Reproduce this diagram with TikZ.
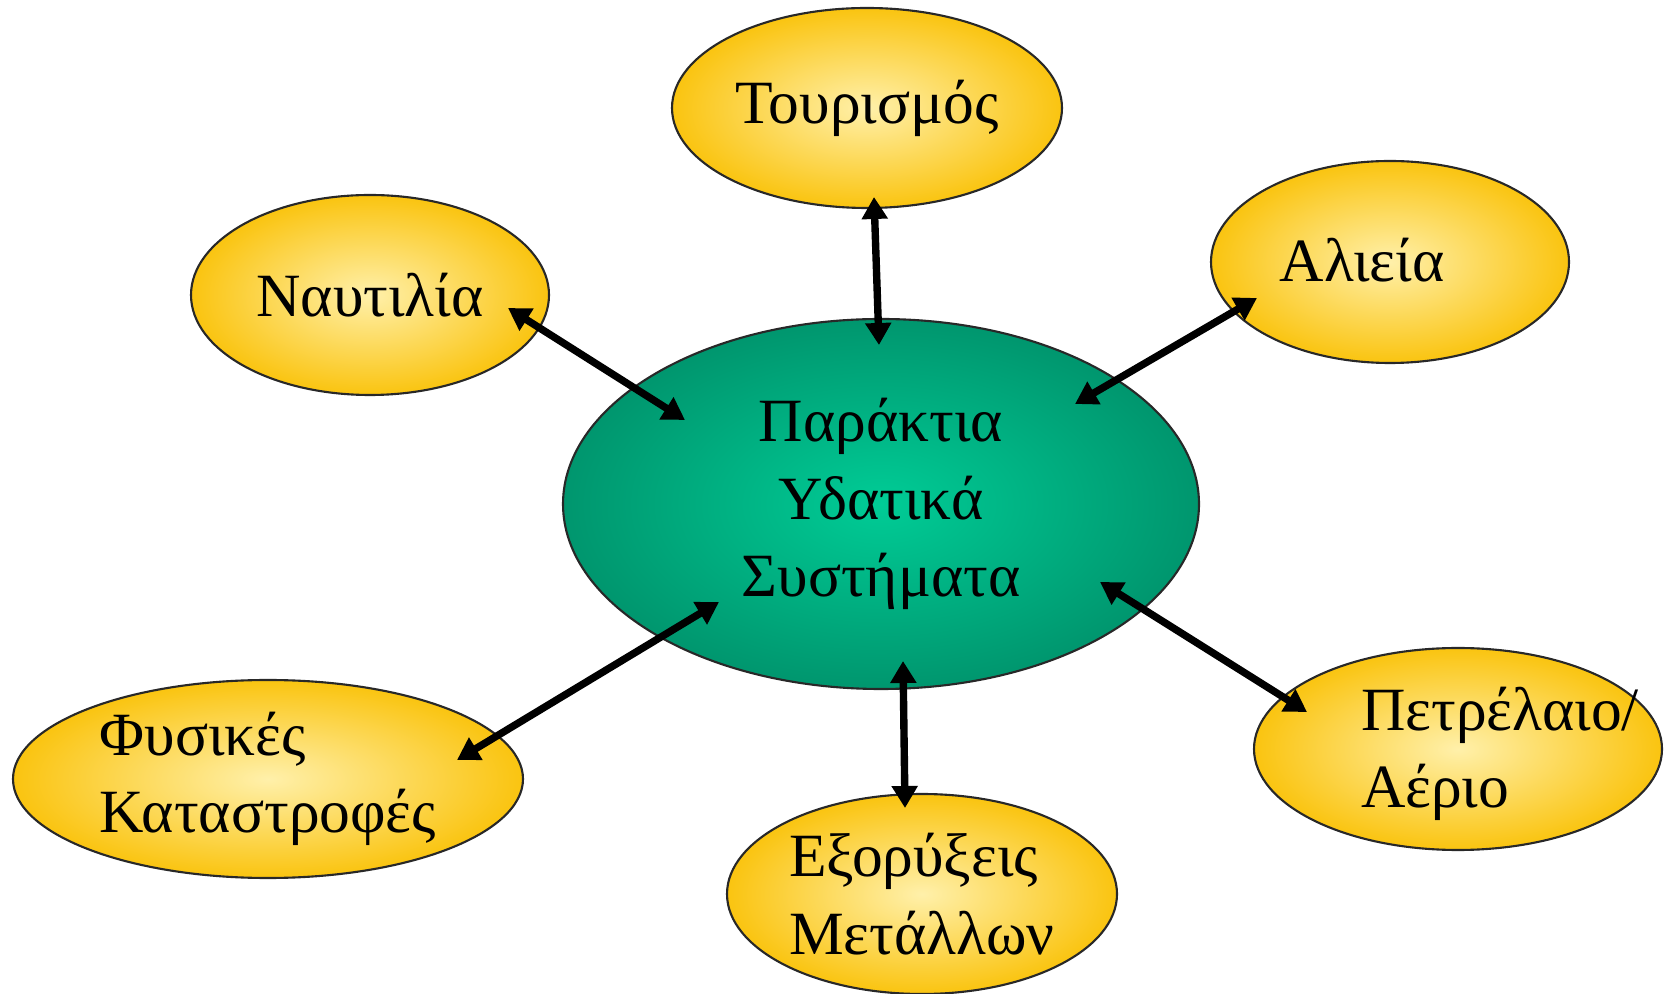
\documentclass[tikz,border=0pt]{standalone}
\usepackage{fontspec}
\setmainfont{Liberation Serif}
\usepackage{tikz}
\usetikzlibrary{shapes.geometric, arrows.meta, calc}
\definecolor{mygold}{RGB}{250,196,16}
\definecolor{mypale}{RGB}{255,240,170}
\definecolor{myteal}{RGB}{0,150,110}
\definecolor{mymint}{RGB}{0,204,150}
\definecolor{myline}{RGB}{40,40,40}
\newcommand{\topicfont}{\fontsize{17.5}{22}\selectfont}
\tikzset{
  topic/.style={ellipse, draw=myline, line width=0.6pt, inner sep=0pt,
    inner color=mypale, outer color=mygold, align=left, font=\topicfont},
  core/.style={ellipse, draw=myline, line width=0.6pt, inner sep=0pt,
    inner color=mymint, outer color=myteal, align=center, font=\topicfont},
  lbl/.style={align=left, font=\topicfont, inner sep=0pt},
  link/.style={>={Triangle[length=0.22cm, width=0.25cm]}, <->,
    line width=2.1pt, color=black}
}

\begin{document}
\begin{tikzpicture}
  \useasboundingbox (0,0) rectangle (16.66,9.93);

  % central system
  \node[core, minimum width=6.36cm, minimum height=3.70cm] (coast) at (8.81,4.89)
    {Παράκτια\\Υδατικά\\Συστήματα};

  % activities around it
  \node[topic, minimum width=3.90cm, minimum height=2.00cm] (tour) at (8.67,8.85) {Τουρισμός};
  \node[topic, minimum width=3.58cm, minimum height=2.00cm] (naut) at (3.70,6.98) {Ναυτιλία};
  \node[topic, minimum width=3.58cm, minimum height=2.02cm] (fish) at (13.90,7.31) {};
  \node[lbl] (fishtxt) at (13.62,7.33) {Αλιεία};
  \node[topic, minimum width=5.10cm, minimum height=1.98cm] (disas) at (2.68,2.14)
    {Φυσικές\\Καταστροφές};
  \node[topic, minimum width=3.90cm, minimum height=2.00cm] (mine) at (9.22,0.99)
    {Εξορύξεις\\Μετάλλων};
  \node[topic, minimum width=4.08cm, minimum height=2.02cm] (oil) at (14.58,2.44) {};
  \node[lbl] (oiltxt) at (15.00,2.39) {Πετρέλαιο/\\Αέριο};

  % two-way links
  \draw[link] ($(tour)+(0.07,-0.89)$) -- ($(coast)+(-0.02,1.59)$);
  \draw[link] ($(naut)+(1.38,-0.13)$) -- ($(coast)+(-1.96,0.84)$);
  \draw[link] ($(fish)+(-1.33,-0.36)$) -- ($(coast)+(1.94,1.00)$);
  \draw[link] ($(disas)+(1.89,0.19)$) -- ($(coast)+(-1.62,-0.98)$);
  \draw[link] ($(mine)+(-0.17,0.86)$) -- ($(coast)+(0.22,-1.57)$);
  \draw[link] ($(oil)+(-1.51,0.37)$) -- ($(coast)+(2.19,-0.78)$);
\end{tikzpicture}
\end{document}
